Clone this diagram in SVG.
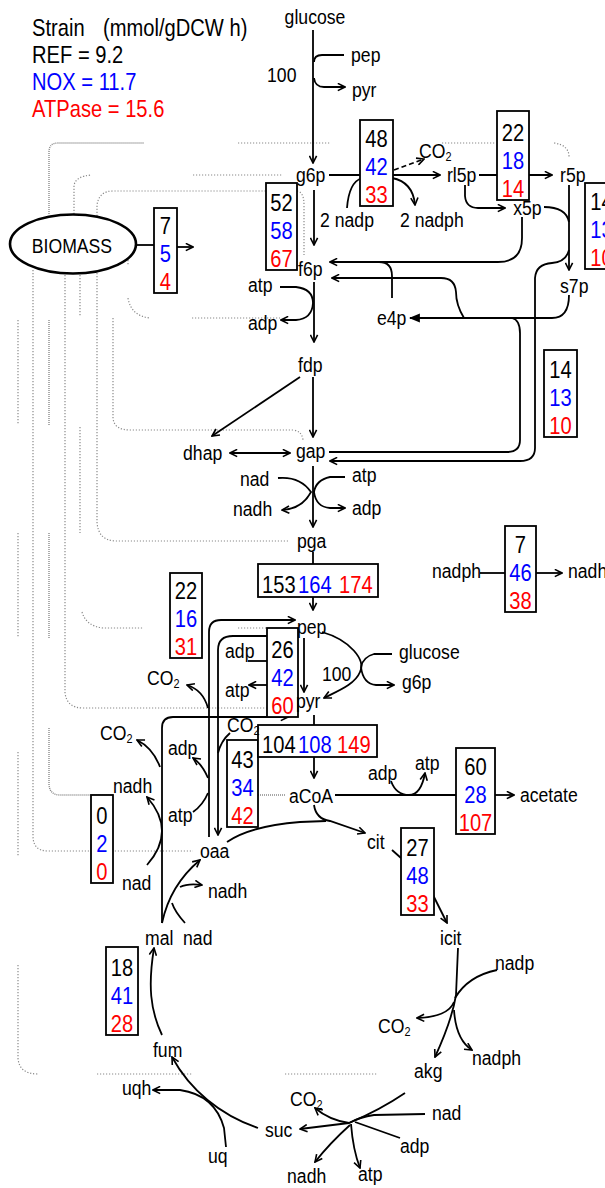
<svg xmlns="http://www.w3.org/2000/svg" width="605" height="1188" viewBox="0 0 605 1188">
<defs>
<marker id="ah" viewBox="0 0 10 10" refX="9" refY="5" markerWidth="9" markerHeight="9" markerUnits="userSpaceOnUse" orient="auto-start-reverse"><path d="M1,1 L9,5 L1,9" fill="none" stroke="#000" stroke-width="1.8"/></marker>
<marker id="ahf" viewBox="0 0 10 10" refX="9" refY="5" markerWidth="11" markerHeight="11" markerUnits="userSpaceOnUse" orient="auto"><path d="M0,1 L10,5 L0,9 Z" fill="#000"/></marker>
</defs>
<style>
.l{fill:none;stroke:#000;stroke-width:1.8}
.a{marker-end:url(#ah)}
.d{fill:none;stroke:#8a8a8a;stroke-width:1.2;stroke-dasharray:1.2 1.8}
.dd{fill:none;stroke:#8a8a8a;stroke-width:1.4;stroke-dasharray:1 1}
text{font-family:"Liberation Sans",Arial,sans-serif;font-size:21px;fill:#000}
.lg{font-size:24px}
.n{font-size:24px;text-anchor:middle}
.b{fill:#0000ff}
.r{fill:#ff0000}
.bx{fill:#fff;stroke:#000;stroke-width:1.8}
.s{font-size:13px}
</style>
<rect width="605" height="1188" fill="#fff"/>
<g id="legend" transform="scale(0.84,1)">
<text class="lg" x="38.1" y="36">Strain<tspan x="122.6">(mmol/gDCW h)</tspan></text>
<text class="lg" x="38.1" y="63">REF = 9.2</text>
<text class="lg b" x="38.1" y="90">NOX = 11.7</text>
<text class="lg r" x="38.1" y="117">ATPase = 15.6</text>
</g>
<g id="biomass-links">
<path class="dd" d="M49,214 L49,152 Q49,143 58,143 L144,143"/>
<path class="d" d="M238,143 L330,143 M442,143 L495,143 M554,143 Q569,145 569,157"/>
<path class="d" d="M74,214 L74,186 Q75,176 92,175 M193,175 L282,175"/>
<path class="d" d="M97,216 L97,205 Q99,191 113,191 L267,191 M297,191 Q304,192 304,205 L304,255"/>
<path class="d" d="M33,270 L33,836 Q33,851 48,851 L193,851"/>
<path class="d" d="M65,275 L65,693 Q67,708 83,708 L267,708"/>
<path class="d" d="M80,275 L80,317 M80,427 L80,533 M82,612 Q86,626 103,628 L143,628 M238,628 L267,628"/>
<path class="d" d="M97,273 L97,522 Q98,540 115,541 L288,541"/>
<path class="d" d="M113,318 L113,418 Q114,430 130,430 L293,430 Q302,431 303,440"/>
<path class="d" d="M18,320 L18,425 M18,533 L18,638 M18,752 L18,857 M18,965 L18,1058 Q19,1074 38,1074 M97,1074 L192,1074 M285,1074 L378,1074"/>
<path class="dd" d="M49,320 L49,425 M49,533 L49,638 M49,728 L49,785 Q50,795 60,795 L113,795 M258,795 L285,795"/>
<path class="d" d="M128,260 L128,266 M128,298 Q131,316 150,318 M192,318 L280,318"/>
</g>
<g id="connectors">
<path class="l a" d="M313,30 L313,163"/>
<path class="l" d="M314,62 Q314,55 322,55 L344,55"/>
<path class="l a" d="M314,78 Q315,87 324,87 L345,87"/>
<path class="l a" d="M329,175 L440,175"/>
<path class="l a" d="M394,170 L424,159" stroke-dasharray="5 3"/>
<path class="l" d="M347,208 Q349,182 362,178"/>
<path class="l a" d="M392,178 Q413,182 415,205"/>
<path class="l a" d="M479,175 L552,175"/>
<path class="l a" d="M465,185 L465,196 Q466,208 478,208 L505,208"/>
<path class="l" d="M544,207 Q566,207 569,222"/>
<path class="l a" d="M569,185 L569,270"/>
<path class="l a" d="M522,217 L522,238 Q522,262 498,262 L330,262"/>
<path class="l" d="M392,298 L392,276 Q392,262 379,262"/>
<path class="l" d="M569,295 Q569,318 552,318 L410,318" stroke-width="3" marker-end="url(#ahf)"/>
<path class="l a" d="M464,318 Q456,305 456,292 Q455,278 441,278 L332,278"/>
<path class="l" d="M512,318 Q520,320 520,333 L520,440 Q520,452 507,452 L329,452"/>
<path class="l a" d="M569,250 Q566,262 552,263 Q536,264 535,278 L535,448 Q535,461 520,461 L330,461"/>
<path class="l a" d="M314,190 L314,245"/>
<path class="l a" d="M314,282 L314,342"/>
<path class="l a" d="M280,287 L296,287 Q313,289 313,303 Q312,319 296,320 L281,320"/>
<path class="l a" d="M300,377 L212,436"/>
<path class="l a" d="M313,377 L313,437"/>
<path class="l a" d="M230,453 L290,453" marker-start="url(#ah)"/>
<path class="l a" d="M313,466 L313,527"/>
<path class="l a" d="M278,478 Q300,476 311,492 Q302,509 282,510"/>
<path class="l a" d="M345,477 L330,477 Q316,480 314,492 Q316,507 330,508 L345,508"/>
<path class="l" d="M313,552 L313,564"/>
<path class="l a" d="M313,597 L313,610"/>
<path class="l a" d="M304,638 L304,692"/>
<path class="l" d="M248,661 L267,661"/>
<path class="l a" d="M267,685 L249,685"/>
<path class="l a" d="M322,632 C350,640 366,660 360,672 C355,684 340,690 324,698"/>
<path class="l" d="M392,654 L374,654 Q363,657 361,667"/>
<path class="l a" d="M361,667 Q363,684 376,685 L394,685"/>
<path class="l" d="M314,715 L314,725"/>
<path class="l a" d="M314,757 L314,778"/>
<path class="l" d="M335,795 L456,795"/>
<path class="l a" d="M391,781 Q396,795 409,795 Q421,795 425,773"/>
<path class="l a" d="M495,795 L514,795"/>
<path class="l a" d="M314,805 Q316,819 330,821 L365,833"/>
<path class="l" d="M227,842 Q250,826 300,822 L326,821"/>
<path class="l" d="M392,850 L401,858"/>
<path class="l a" d="M432,893 Q437,903 447,923"/>
<path class="l a" d="M458,948 L456,995 Q452,1020 435,1057"/>
<path class="l" d="M497,970 Q468,976 455,998"/>
<path class="l a" d="M454,1002 Q448,1017 417,1018"/>
<path class="l a" d="M454,1010 Q456,1040 472,1050"/>
<path class="l a" d="M405,1093 Q380,1110 349,1123 L300,1129"/>
<path class="l" d="M425,1114 L374,1115 Q360,1117 349,1123"/>
<path class="l" d="M400,1138 L355,1122"/>
<path class="l a" d="M351,1124 Q353,1150 360,1168"/>
<path class="l a" d="M350,1125 Q330,1143 315,1162"/>
<path class="l a" d="M349,1123 Q329,1120 315,1108"/>
<path class="l a" d="M258,1128 C220,1115 190,1090 172,1057"/>
<path class="l a" d="M226,1147 L224,1128 Q215,1095 180,1090 L153,1090"/>
<path class="l a" d="M162,1035 C150,1010 148,985 154,948"/>
<path class="l a" d="M162,923 C168,895 182,875 200,860"/>
<path class="l" d="M185,923 Q175,912 172,903"/>
<path class="l a" d="M180,887 Q188,883 202,885"/>
<path class="l a" d="M162,923 L162,728 Q162,717 173,717 L288,717"/>
<path class="l a" d="M147,865 Q177,831 147,797"/>
<path class="l a" d="M160,767 Q153,748 137,740"/>
<path class="l a" d="M209,837 L209,632 Q209,620 221,620 L295,620"/>
<path class="l" d="M193,812 Q203,805 208,793"/>
<path class="l a" d="M208,778 Q202,764 193,758"/>
<path class="l a" d="M208,708 Q203,690 187,685"/>
<path class="l a" d="M298,636 L233,636 Q218,636 218,650 L218,835"/>
<path class="l" d="M230,733 Q221,741 218,753"/>
<path class="l" d="M137,245 L154,245"/>
<path class="l a" d="M177,247 L193,247"/>
<path class="l" d="M480,573 L505,573"/>
<path class="l a" d="M536,573 L562,573"/>
</g>
<g id="BIOMASS"><ellipse cx="73" cy="244" rx="63" ry="29.5" fill="#fff" stroke="#000" stroke-width="2.6"/><g transform="scale(0.84,1)"><text x="85.7" y="253" text-anchor="middle">BIOMASS</text></g></g>
<g id="flux-g6pdh"><rect class="bx" x="360" y="120" width="33" height="86"/><g transform="scale(0.84,1)"><text class="n" x="448.2" y="147">48</text><text class="n b" x="448.2" y="175">42</text><text class="n r" x="448.2" y="203">33</text></g></g>
<g id="flux-rpe"><rect class="bx" x="497" y="111" width="32" height="89"/><g transform="scale(0.84,1)"><text class="n" x="610.7" y="141">22</text><text class="n b" x="610.7" y="169">18</text><text class="n r" x="610.7" y="197">14</text></g></g>
<g id="flux-tkt1"><rect class="bx" x="585" y="183" width="33" height="86"/><g transform="scale(0.84,1)"><text class="n" x="716.1" y="210">14</text><text class="n b" x="716.1" y="238">13</text><text class="n r" x="716.1" y="266">10</text></g></g>
<g id="flux-pgi"><rect class="bx" x="266" y="183" width="31" height="87"/><g transform="scale(0.84,1)"><text class="n" x="335.1" y="211">52</text><text class="n b" x="335.1" y="239">58</text><text class="n r" x="335.1" y="267">67</text></g></g>
<g id="flux-biomass"><rect class="bx" x="154" y="208" width="23" height="85"/><g transform="scale(0.84,1)"><text class="n" x="197" y="234">7</text><text class="n b" x="197" y="262">5</text><text class="n r" x="197" y="290">4</text></g></g>
<g id="flux-tkt2"><rect class="bx" x="544" y="350" width="33" height="87"/><g transform="scale(0.84,1)"><text class="n" x="667.3" y="378">14</text><text class="n b" x="667.3" y="406">13</text><text class="n r" x="667.3" y="434">10</text></g></g>
<g id="flux-pnt"><rect class="bx" x="505" y="526" width="31" height="86"/><g transform="scale(0.84,1)"><text class="n" x="619.6" y="553">7</text><text class="n b" x="619.6" y="581">46</text><text class="n r" x="619.6" y="609">38</text></g></g>
<g id="flux-pck"><rect class="bx" x="170" y="573" width="32" height="85"/><g transform="scale(0.84,1)"><text class="n" x="221.4" y="599">22</text><text class="n b" x="221.4" y="627">16</text><text class="n r" x="221.4" y="655">31</text></g></g>
<g id="flux-pyk"><rect class="bx" x="267" y="628" width="31" height="89"/><g transform="scale(0.84,1)"><text class="n" x="336.3" y="658">26</text><text class="n b" x="336.3" y="686">42</text><text class="n r" x="336.3" y="714">60</text></g></g>
<g id="flux-ppc"><rect class="bx" x="227" y="740" width="31" height="87"/><g transform="scale(0.84,1)"><text class="n" x="288.7" y="768">43</text><text class="n b" x="288.7" y="796">34</text><text class="n r" x="288.7" y="824">42</text></g></g>
<g id="flux-ack"><rect class="bx" x="456" y="748" width="39" height="86"/><g transform="scale(0.84,1)"><text class="n" x="566.1" y="775">60</text><text class="n b" x="566.1" y="803">28</text><text class="n r" x="566.1" y="831">107</text></g></g>
<g id="flux-cs"><rect class="bx" x="401" y="828" width="33" height="87"/><g transform="scale(0.84,1)"><text class="n" x="497" y="856">27</text><text class="n b" x="497" y="884">48</text><text class="n r" x="497" y="912">33</text></g></g>
<g id="flux-mae"><rect class="bx" x="91" y="795" width="22" height="88"/><g transform="scale(0.84,1)"><text class="n" x="121.4" y="824">0</text><text class="n b" x="121.4" y="852">2</text><text class="n r" x="121.4" y="880">0</text></g></g>
<g id="flux-fum"><rect class="bx" x="106" y="947" width="32" height="88"/><g transform="scale(0.84,1)"><text class="n" x="145.2" y="976">18</text><text class="n b" x="145.2" y="1004">41</text><text class="n r" x="145.2" y="1032">28</text></g></g>
<g id="flux-gapdh"><rect class="bx" x="258" y="564" width="120" height="33"/><g transform="scale(0.84,1)"><text class="lg" x="311.9" y="593">153</text><text class="lg b" x="354.8" y="593">164</text><text class="lg r" x="403.6" y="593">174</text></g></g>
<g id="flux-pdh"><rect class="bx" x="258" y="725" width="119" height="32"/><g transform="scale(0.84,1)"><text class="lg" x="311.9" y="753">104</text><text class="lg b" x="354.8" y="753">108</text><text class="lg r" x="401.2" y="753">149</text></g></g>
<g id="metabolites" transform="scale(0.84,1)">
<text id="glucose" x="375" y="24" text-anchor="middle">glucose</text>
<text x="317.9" y="82" font-size="22">100</text>
<text x="417.9" y="62">pep</text>
<text x="419" y="97">pyr</text>
<text id="g6p" x="352.4" y="182">g6p</text>
<text x="498.8" y="158">CO<tspan class="s" dy="3">2</tspan></text>
<text id="rl5p" x="532.1" y="182">rl5p</text>
<text id="r5p" x="666.7" y="182">r5p</text>
<text x="381" y="227">2 nadp</text>
<text x="476.2" y="227">2 nadph</text>
<text id="x5p" x="611" y="215">x5p</text>
<text id="f6p" x="354.8" y="276">f6p</text>
<text x="295.2" y="292">atp</text>
<text x="295.2" y="330">adp</text>
<text id="e4p" x="448.8" y="325">e4p</text>
<text id="s7p" x="666.7" y="293">s7p</text>
<text id="fdp" x="354.8" y="372">fdp</text>
<text id="dhap" x="217.9" y="460">dhap</text>
<text id="gap" x="352.4" y="458">gap</text>
<text x="285.7" y="486">nad</text>
<text x="277.4" y="516">nadh</text>
<text x="419" y="482">atp</text>
<text x="419" y="515">adp</text>
<text id="pga" x="353.6" y="548">pga</text>
<text x="514.3" y="578">nadph</text>
<text x="676.2" y="578">nadh</text>
<text id="pep" x="353.6" y="634">pep</text>
<text x="475" y="659">glucose</text>
<text x="383.3" y="681" font-size="22">100</text>
<text x="478.6" y="689">g6p</text>
<text x="267.9" y="658">adp</text>
<text x="267.9" y="697">atp</text>
<text id="pyr" x="352.4" y="708">pyr</text>
<text x="175" y="685">CO<tspan class="s" dy="3">2</tspan></text>
<text x="119" y="740">CO<tspan class="s" dy="3">2</tspan></text>
<text x="270.2" y="732">CO<tspan class="s" dy="3">2</tspan></text>
<text x="200" y="755">adp</text>
<text x="134.5" y="793">nadh</text>
<text x="200" y="822">atp</text>
<text id="aCoA" x="344" y="803">aCoA</text>
<text x="438.1" y="780">adp</text>
<text x="494" y="770">atp</text>
<text id="acetate" x="619" y="802">acetate</text>
<text id="oaa" x="238.1" y="858">oaa</text>
<text id="cit" x="436.9" y="849">cit</text>
<text x="145.2" y="890">nad</text>
<text x="247.6" y="898">nadh</text>
<text id="mal" x="172.6" y="945">mal</text>
<text x="217.9" y="945">nad</text>
<text id="icit" x="523.8" y="945">icit</text>
<text x="589.3" y="970">nadp</text>
<text x="450" y="1033">CO<tspan class="s" dy="3">2</tspan></text>
<text x="561.9" y="1065">nadph</text>
<text id="akg" x="492.9" y="1078">akg</text>
<text x="145.2" y="1095">uqh</text>
<text x="345.2" y="1106">CO<tspan class="s" dy="3">2</tspan></text>
<text x="514.3" y="1120">nad</text>
<text id="suc" x="315.5" y="1137">suc</text>
<text x="476.2" y="1153">adp</text>
<text x="247.6" y="1163">uq</text>
<text x="341.7" y="1183">nadh</text>
<text x="426.2" y="1181">atp</text>
<text id="fum" x="182.1" y="1057">fum</text>
</g>
</svg>
